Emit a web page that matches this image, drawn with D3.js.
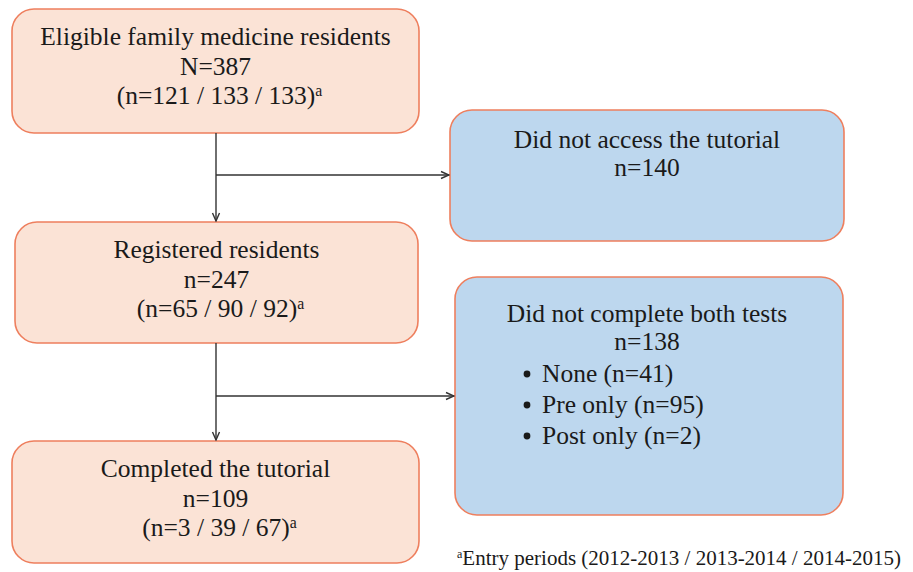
<!DOCTYPE html>
<html><head><meta charset="utf-8">
<script src="https://cdn.jsdelivr.net/npm/d3@7"></script>
<style>html,body{margin:0;padding:0;background:#fff;}svg{display:block;}</style>
</head><body>
<svg id="c" width="913" height="572"></svg>
<script>
// Box contents
const boxIds = ["eligible","registered","completed","noAccess","noTests"];
const boxTitles = ["Eligible family medicine residents","Registered residents","Completed the tutorial","Did not access the tutorial","Did not complete both tests"];
const boxCounts = ["N=387","n=247","n=109","n=140","n=138"];
const boxBreakdowns = ["(n=121 / 133 / 133)","(n=65 / 90 / 92)","(n=3 / 39 / 67)",null,null];
const boxKinds = ["main","main","main","side","side"];
const bulletItems = ["None (n=41)","Pre only (n=95)","Post only (n=2)"];
const footnote = "Entry periods (2012-2013 / 2013-2014 / 2014-2015)";

// layout (pixels)
const layout = {
  eligible:  {x:12,  y:9,   w:407, h:124},
  registered:{x:15,  y:222, w:403, h:121},
  completed: {x:12,  y:441, w:407, h:122},
  noAccess:  {x:450, y:110, w:394, h:131},
  noTests:   {x:455, y:277, w:388, h:238}
};
const fills = {main:"#FBE3D6", side:"#BDD7EE"};
const strokeCol = "#EE7F5E";
const font = "'Liberation Serif','Times New Roman',serif";

const svg = d3.select("#c");
const defs = svg.append("defs");
defs.append("marker").attr("id","arr").attr("viewBox","0 0 10 10")
  .attr("refX",9).attr("refY",5).attr("markerWidth",10).attr("markerHeight",10)
  .attr("markerUnits","userSpaceOnUse").attr("orient","auto")
  .append("path").attr("d","M1,1.5 L9,5 L1,8.5").attr("fill","none").attr("stroke","#333").attr("stroke-width",1.4);

const boxes = boxIds.map((id,i)=>({id, title:boxTitles[i], count:boxCounts[i], sub:boxBreakdowns[i], kind:boxKinds[i], ...layout[id]}));

const g = svg.selectAll("g.box").data(boxes).join("g").attr("class","box");
g.append("rect").attr("x",d=>d.x).attr("y",d=>d.y).attr("width",d=>d.w).attr("height",d=>d.h)
  .attr("rx",22).attr("ry",22).attr("fill",d=>fills[d.kind]).attr("stroke",strokeCol).attr("stroke-width",1.6);

const fs = 25.5;
function addText(x,y,txt,anchor,size,sup){
  const s = size||fs;
  const t = svg.append("text").attr("x",x).attr("y",y).attr("text-anchor",anchor||"middle")
    .attr("font-family",font).attr("font-size",s).attr("fill","#1a1a1a").text(txt);
  if(sup){ t.append("tspan").attr("font-size",s*0.62).attr("dy",-s*0.3).text("a"); }
  return t;
}
// main boxes text
const mainOffsets = [36, 66, 95];
boxes.forEach(b=>{
  const cx = b.x + b.w/2;
  if(b.kind==="main"){
    addText(cx, b.y+mainOffsets[0], b.title);
    addText(cx, b.y+mainOffsets[1], b.count);
    addText(cx+4, b.y+mainOffsets[2], b.sub, "middle", fs, true);
  } else if(b.id==="noAccess"){
    addText(647, b.y+38, b.title);
    addText(647, b.y+66, b.count);
  } else {
    addText(647, b.y+45, b.title);
    addText(647, b.y+73, b.count);
  }
});
// bullets
const nt = layout.noTests;
bulletItems.forEach((s,i)=>{
  const y = nt.y + 105 + i*31;
  svg.append("circle").attr("cx",527).attr("cy",y-8).attr("r",3.4).attr("fill","#1a1a1a");
  addText(542, y, s, "start");
});
// footnote
const ft = svg.append("text").attr("x",457).attr("y",565).attr("font-family",font).attr("font-size",21).attr("fill","#1a1a1a");
ft.append("tspan").attr("font-size",12).attr("dy",-7).text("a");
ft.append("tspan").attr("dy",7).text(footnote);

// connectors
const sx = 216;
const lineAttr = s=>s.attr("stroke","#333").attr("stroke-width",1.4).attr("fill","none");
const L = layout;
lineAttr(svg.append("line").attr("x1",sx).attr("y1",L.eligible.y+L.eligible.h).attr("x2",sx).attr("y2",L.registered.y-1)).attr("marker-end","url(#arr)");
lineAttr(svg.append("line").attr("x1",sx).attr("y1",175).attr("x2",L.noAccess.x-1).attr("y2",175)).attr("marker-end","url(#arr)");
lineAttr(svg.append("line").attr("x1",sx).attr("y1",L.registered.y+L.registered.h).attr("x2",sx).attr("y2",L.completed.y-1)).attr("marker-end","url(#arr)");
lineAttr(svg.append("line").attr("x1",sx).attr("y1",396).attr("x2",L.noTests.x-1).attr("y2",396)).attr("marker-end","url(#arr)");
</script>
</body></html>
